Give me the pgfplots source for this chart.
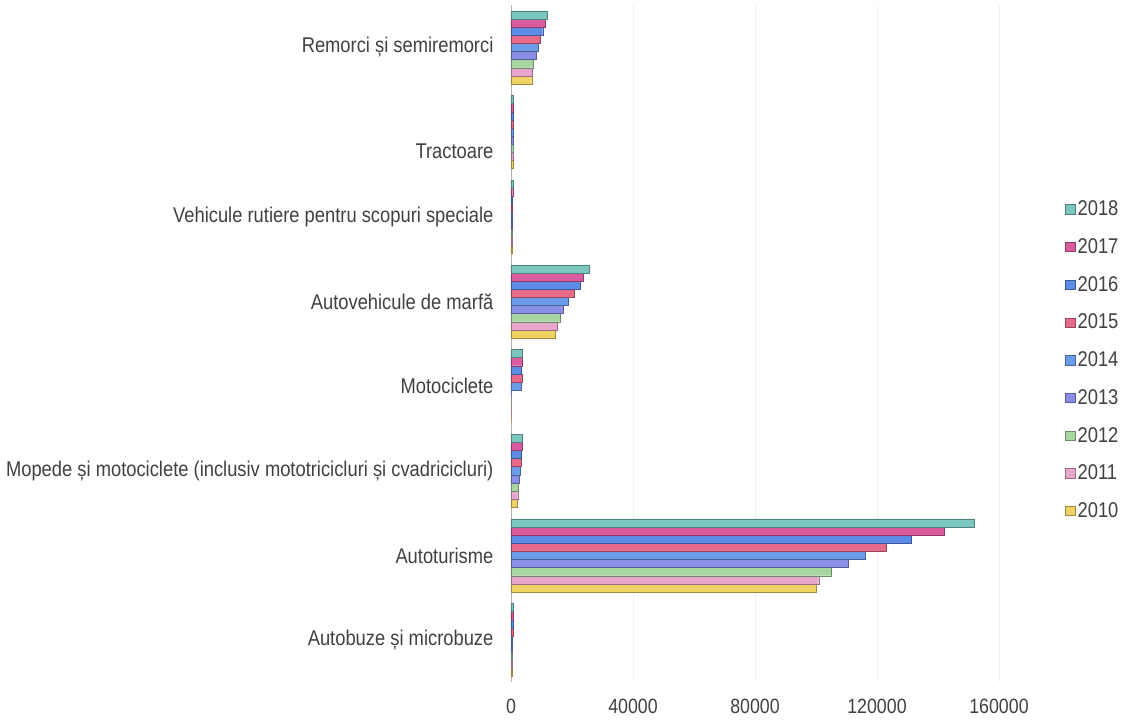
\documentclass[border=0pt]{standalone}
\usepackage{fontspec}
\setmainfont{Liberation Sans}[FakeStretch=0.86]
\usepackage{pgfplots}
\usepackage{pgfplotstable}
\pgfplotsset{compat=1.18}
\definecolor{c2010}{HTML}{F0D264}
\definecolor{c2011}{HTML}{E8A6CC}
\definecolor{c2012}{HTML}{A8D6A0}
\definecolor{c2013}{HTML}{8A8EE6}
\definecolor{c2014}{HTML}{6C9CE8}
\definecolor{c2015}{HTML}{E76A8A}
\definecolor{c2016}{HTML}{5C8CE6}
\definecolor{c2017}{HTML}{DA5C9E}
\definecolor{c2018}{HTML}{7CC6C0}
\definecolor{txt}{HTML}{404040}
\pgfplotstableread{
cat y2010 y2011 y2012 y2013 y2014 y2015 y2016 y2017 y2018
0 450 480 500 520 550 580 600 650 700
1 100200 100900 105000 110500 116200 122900 131200 142100 152000
2 2000 2200 2400 2700 3000 3200 3400 3600 3800
3 0 0 0 0 3500 3600 3500 3700 3800
4 14400 15200 16100 17200 18800 20700 22600 23700 25700
5 450 460 470 480 500 520 540 560 600
6 600 620 640 660 680 700 720 740 760
7 6800 7000 7300 8400 8900 9500 10400 11100 11800
}\data
\begin{document}
\begin{tikzpicture}
\path[use as bounding box] (0,0) rectangle (846pt,541.5pt);
\begin{axis}[
  at={(383.25pt,29.7pt)}, anchor=south west,
  scale only axis, width=366pt, height=508pt,
  xbar=0pt, bar width=6.1pt,
  xmin=0, xmax=160000,
  ymin=-0.5, ymax=7.5,
  ytick={0,...,7},
  yticklabels={Autobuze și microbuze, Autoturisme, Mopede și motociclete (inclusiv mototricicluri  și cvadricicluri), Motociclete, Autovehicule de marfă, Vehicule rutiere pentru scopuri speciale, {\raisebox{-20pt}[0pt][0pt]{Tractoare}}, Remorci și semiremorci},
  xtick={0,40000,80000,120000,160000},
  scaled x ticks=false,
  /pgf/number format/fixed, /pgf/number format/1000 sep={},
  /pgf/number format/assume math mode=true,
  xticklabel style={font=\fontsize{15.5}{17}\selectfont, text=txt, yshift=-9pt},
  yticklabel style={font=\fontsize{16}{18}\selectfont, text=txt, inner sep=0pt, xshift=-13pt},
  major tick length=0pt,
  axis x line*=bottom, axis y line*=left,
  x axis line style={draw=none},
  y axis line style={draw=gray!60, line width=0.6pt},
  xmajorgrids, grid style={gray!12, line width=0.5pt},
  legend style={at={(1.127,0.4757)}, anchor=west, draw=none, fill=none,
    font=\fontsize{16}{18}\selectfont, text=txt, row sep=11.6pt,
    /tikz/every even column/.append style={column sep=5pt}},
  legend cell align=left,
  reverse legend,
  legend image code/.code={\draw[#1, line width=0.3pt] (0pt,-3.4pt) rectangle (7pt,3.6pt);},
  every axis plot/.append style={line width=0.3pt},
]
\addplot[fill=c2010, draw=c2010!65!black] table[x=y2010, y=cat] {\data};
\addplot[fill=c2011, draw=c2011!65!black] table[x=y2011, y=cat] {\data};
\addplot[fill=c2012, draw=c2012!65!black] table[x=y2012, y=cat] {\data};
\addplot[fill=c2013, draw=c2013!65!black] table[x=y2013, y=cat] {\data};
\addplot[fill=c2014, draw=c2014!65!black] table[x=y2014, y=cat] {\data};
\addplot[fill=c2015, draw=c2015!65!black] table[x=y2015, y=cat] {\data};
\addplot[fill=c2016, draw=c2016!65!black] table[x=y2016, y=cat] {\data};
\addplot[fill=c2017, draw=c2017!65!black] table[x=y2017, y=cat] {\data};
\addplot[fill=c2018, draw=c2018!65!black] table[x=y2018, y=cat] {\data};
\legend{2010,2011,2012,2013,2014,2015,2016,2017,2018}
\end{axis}
\end{tikzpicture}
\end{document}
